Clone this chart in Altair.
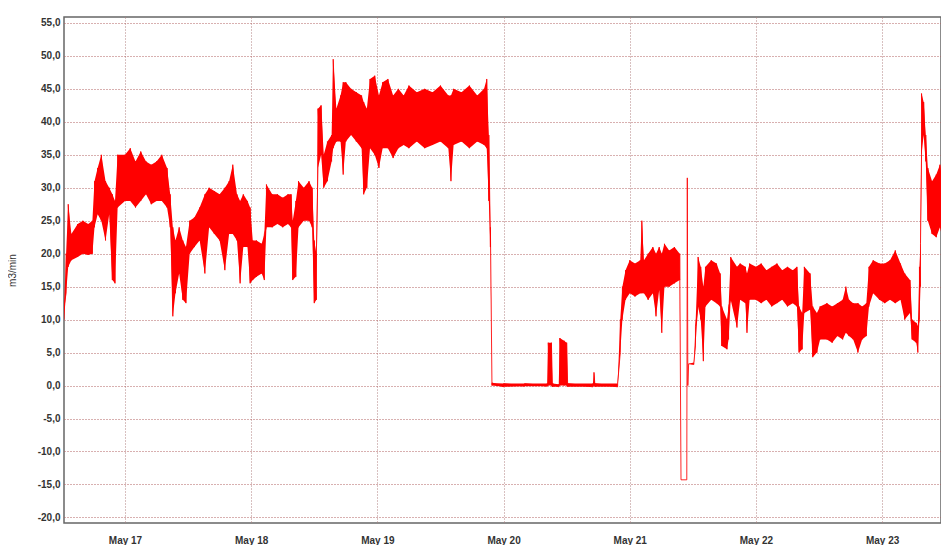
import altair as alt
import pandas as pd

# hours since May 16 00:00, with the low / high envelope of the noisy reading (m3/min)
hours = [12.4, 12.8, 13.2, 13.8, 15.0, 16.0, 17.0, 17.8, 18.2, 18.8, 19.5, 20.3, 21.0, 21.6, 22.1, 22.6,
         24.0, 25.0, 26.0, 27.0, 28.0, 29.0, 30.0, 31.0, 32.0, 32.6, 33.1, 33.6, 34.3, 35.0, 35.6, 36.3,
         37.2, 38.2, 39.2, 40.0, 41.0, 42.0, 43.0, 43.8, 44.5, 45.3, 45.9, 46.5, 47.3, 47.8, 48.3, 49.0,
         50.0, 50.5, 50.9, 52.0, 53.0, 54.0, 55.0, 55.6, 55.9, 56.5, 57.0, 58.0, 59.0, 59.6, 60.0, 60.4,
         60.7, 61.3, 61.8, 62.5, 63.3, 63.6, 64.2, 65.0, 65.5, 66.0, 67.0, 68.0, 69.0, 69.4, 70.0, 70.6,
         71.5, 72.3, 73.0, 74.0, 75.0, 76.0, 77.0, 78.0, 79.5, 81.0, 82.5, 84.0, 85.5, 86.0, 86.5, 88.0,
         89.5, 91.0, 92.3, 92.8, 93.2, 93.5, 93.8, 96.0, 100.0, 104.3, 104.5, 105.1, 105.3, 106.5, 106.7,
         107.5, 108.0, 108.2, 113.0, 113.2, 113.4, 117.7, 118.2, 118.6, 119.2, 120.0, 121.0, 122.0, 122.3,
         122.7, 123.5, 124.4, 125.0, 125.6, 126.1, 126.6, 127.5, 128.5, 129.5, 129.75, 130.85, 130.95,
         131.05, 131.2, 132.2, 132.5, 133.0, 133.5, 134.0, 134.4, 135.5, 136.5, 137.2, 137.5, 138.5, 138.8,
         139.2, 140.4, 141.0, 142.0, 142.3, 142.8, 144.0, 145.0, 146.0, 147.0, 148.0, 149.0, 150.0, 151.0,
         151.8, 152.2, 152.8, 153.2, 154.3, 154.8, 155.6, 156.2, 157.5, 158.5, 159.5, 160.5, 161.1, 161.7,
         162.5, 163.4, 164.2, 165.0, 165.5, 166.3, 167.5, 168.5, 169.5, 170.5, 171.5, 172.3, 173.3, 173.7,
         174.5, 174.8, 175.1, 175.3, 175.5, 175.9, 176.3, 176.7, 177.5, 178.3, 179.0, 179.6, 180.1]
low = [10.0, 14.0, 18.0, 19.0, 19.5, 20.0, 19.8, 20.0, 24.0, 26.0, 25.0, 22.0, 26.0, 16.0, 15.5, 27.0,
       28.0, 28.0, 27.0, 28.0, 29.0, 27.5, 28.0, 28.0, 27.0, 24.0, 10.5, 14.0, 17.0, 13.0, 12.5, 20.0,
       21.0, 22.0, 17.0, 24.0, 23.0, 22.0, 17.5, 23.0, 23.0, 22.0, 15.5, 21.0, 21.0, 15.5, 16.0, 16.5,
       17.0, 16.0, 24.0, 24.0, 24.5, 24.0, 24.5, 24.0, 16.0, 16.5, 24.0, 25.0, 25.0, 24.0, 12.5, 13.0,
       33.0, 35.0, 30.0, 31.0, 34.0, 36.0, 37.0, 37.0, 32.0, 37.0, 38.0, 37.0, 36.0, 29.0, 30.0, 36.0,
       35.0, 33.0, 36.0, 36.0, 34.5, 36.0, 36.5, 36.0, 37.0, 36.0, 36.5, 37.0, 36.0, 31.0, 36.5, 37.0,
       36.0, 37.0, 36.5, 36.0, 28.0, 21.0, 0.0, -0.2, -0.1, -0.1, 0.0, 0.0, -0.2, -0.2, 0.0,
       0.0, 0.0, -0.2, -0.2, 0.0, -0.2, -0.2, 5.0, 10.0, 13.0, 14.0, 13.5, 14.0, 14.0,
       14.0, 13.0, 14.0, 10.5, 14.5, 8.0, 15.0, 15.0, 15.5, 16.0, -14.3, -14.3, 31.5,
       0.0, 3.3, 3.2, 6.0, 12.0, 10.0, 3.7, 12.0, 13.0, 12.5, 12.0, 6.0, 5.5, 7.0,
       13.0, 8.8, 13.0, 12.5, 8.0, 13.0, 13.0, 12.5, 13.0, 12.0, 12.5, 13.0, 12.0, 12.5,
       12.0, 5.0, 5.5, 11.0, 11.5, 4.3, 5.0, 7.0, 7.0, 6.5, 7.5, 7.0, 8.0, 7.5,
       7.0, 5.0, 7.0, 7.5, 12.0, 14.0, 13.0, 12.5, 13.0, 12.5, 13.0, 10.0, 11.0, 7.0,
       6.5, 5.0, 10.0, 15.0, 35.0, 38.0, 34.0, 25.0, 23.0, 22.5, 24.0, 22.0, 23.0]
high = [12.0, 20.0, 27.5, 23.0, 24.5, 25.0, 24.5, 25.0, 31.0, 33.0, 35.0, 31.0, 30.0, 29.0, 28.0, 35.0,
        35.0, 36.0, 34.0, 35.5, 34.0, 33.5, 34.0, 35.0, 33.0, 29.0, 24.0, 22.0, 24.0, 22.0, 21.0, 25.0,
        25.5, 27.0, 29.0, 30.0, 29.5, 29.0, 30.0, 31.0, 33.5, 29.0, 28.0, 29.0, 28.0, 27.0, 22.0, 22.0,
        21.5, 23.0, 30.5, 29.0, 29.0, 28.5, 29.0, 29.0, 25.0, 28.0, 31.0, 30.0, 31.0, 30.0, 22.0, 20.0,
        42.0, 42.5, 35.0, 37.0, 38.0, 49.5, 42.0, 44.0, 46.0, 46.0, 45.0, 44.5, 44.0, 43.0, 42.0, 46.5,
        47.0, 44.0, 46.0, 46.5, 44.0, 45.0, 44.0, 45.5, 44.5, 45.0, 44.5, 45.5, 44.0, 44.0, 45.0, 44.5,
        45.5, 44.0, 45.0, 46.5, 38.0, 24.0, 0.4, 0.3, 0.3, 0.3, 6.5, 6.5, 0.3, 0.2, 7.2,
        6.8, 6.5, 0.3, 0.3, 2.0, 0.3, 0.3, 10.0, 15.0, 17.5, 19.0, 18.5, 19.0, 25.0,
        19.0, 20.0, 21.0, 20.0, 21.0, 20.0, 21.5, 20.5, 21.0, 20.0, -14.3, -14.3, 31.5,
        0.0, 3.3, 3.5, 9.0, 19.5, 18.0, 15.0, 18.0, 19.0, 18.5, 17.0, 12.0, 10.0, 12.0,
        19.5, 18.0, 18.5, 18.0, 17.0, 18.5, 18.0, 18.5, 17.5, 18.0, 18.5, 17.5, 18.0, 17.5,
        18.0, 12.0, 11.0, 18.0, 17.0, 12.0, 11.0, 12.0, 12.5, 12.0, 12.5, 13.0, 15.0, 13.0,
        12.5, 12.5, 12.0, 12.5, 18.0, 19.0, 18.5, 18.5, 19.0, 20.5, 18.5, 17.0, 16.0, 10.0,
        9.5, 9.0, 18.0, 21.5, 44.3, 43.0, 38.0, 33.0, 31.0, 32.0, 33.5, 30.5, 31.0]

y_ticks = [-20, -15, -10, -5, 0, 5, 10, 15, 20, 25, 30, 35, 40, 45, 50, 55]
day_ticks = [1, 2, 3, 4, 5, 6, 7]  # days after May 16 (May 17 .. May 23)

BASE_MS = 1431734400000  # May 16, 00:00 UTC
H = 3600000

env = pd.DataFrame({"t": [BASE_MS + h * H for h in hours], "lo": low, "hi": high})
rows = []
seq = 0
for h, a, b in zip(hours, low, high):
    rows.append({"t": BASE_MS + h * H, "v": a, "seq": seq}); seq += 1
    rows.append({"t": BASE_MS + h * H, "v": b, "seq": seq}); seq += 1
trace = pd.DataFrame(rows)

x_scale = alt.Scale(type="utc", domain=[BASE_MS + 12.4 * H, BASE_MS + 179.2 * H], nice=False)
y_scale = alt.Scale(domain=[-20.85, 55.9], nice=False, zero=False)

x_axis = alt.Axis(
    title=None, values=[BASE_MS + d * 24 * H for d in day_ticks], format="%b %d",
    labelFont="Liberation Sans", labelFontSize=10, labelFontWeight="bold", labelColor="#333333",
    labelPadding=12, tickSize=0, domain=False, labelOverlap=False,
    grid=True, gridColor="#b08080", gridDash=[1, 2], gridWidth=1,
)
y_axis = alt.Axis(
    title="m3/min", values=y_ticks,
    labelExpr="replace(replace(format(datum.value, '.1f'), '.', ','), '\u2212', '-')",
    labelFont="Liberation Sans", labelFontSize=10, labelFontWeight="bold", labelColor="#333333",
    labelPadding=4, tickSize=0, domain=False, labelOverlap=False, labelFlush=False,
    titleFont="Liberation Sans", titleFontSize=10, titleFontWeight="normal", titleColor="#333333",
    titlePadding=20,
    grid=True, gridColor="#b06060", gridDash=[1, 2], gridWidth=1,
)

area = alt.Chart(env).mark_area(color="#ff0000", opacity=1, interpolate="linear", clip=True).encode(
    x=alt.X("t:T", scale=x_scale, axis=x_axis),
    y=alt.Y("lo:Q", scale=y_scale, axis=y_axis),
    y2="hi:Q",
)
line = alt.Chart(trace).mark_line(color="#ff0000", strokeWidth=1, opacity=0.85, clip=True).encode(
    x=alt.X("t:T", scale=x_scale, axis=x_axis),
    y=alt.Y("v:Q", scale=y_scale, axis=y_axis),
    order="seq:Q",
)

chart = alt.layer(area, line).properties(
    width=877, height=506,
    autosize=alt.AutoSizeParams(type="none"),
    padding={"left": 56, "top": 9, "right": 0, "bottom": 22},
).configure_view(stroke="#666666", strokeWidth=1.5).configure_axis(labelOverlap=False)

chart.save("out.html", embed_options={"renderer": "svg", "actions": False})
